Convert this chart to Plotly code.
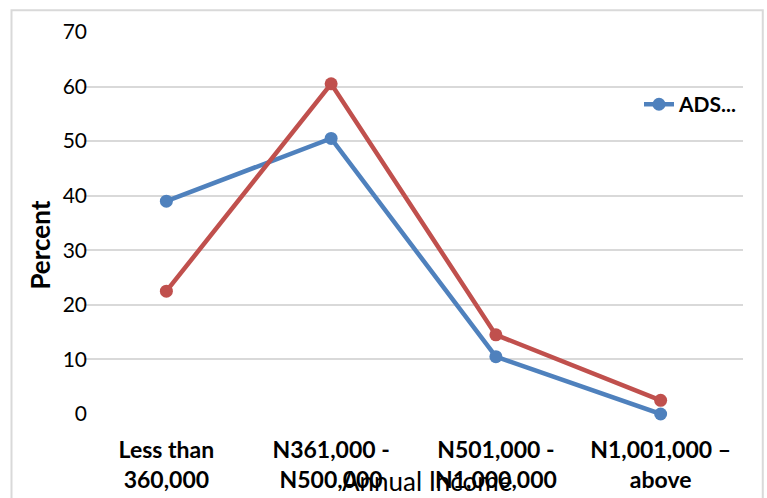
import plotly.graph_objects as go

categories = ["Less than<br>360,000", "N361,000 -<br>N500,000",
              "N501,000 -<br>N1,000,000", "N1,001,000 –<br>above"]
ads_values = [39, 50.5, 10.5, 0]
other_values = [22.5, 60.5, 14.5, 2.5]
y_ticks = [0, 10, 20, 30, 40, 50, 60, 70]

BLUE = "#4F81BD"
RED = "#C0504D"
FONT = "Lato"

fig = go.Figure()
fig.add_trace(go.Scatter(
    x=categories, y=ads_values, name="<b>ADS...</b>", mode="lines+markers",
    line=dict(color=BLUE, width=4.5), marker=dict(size=13, color=BLUE),
    cliponaxis=False,
))
fig.add_trace(go.Scatter(
    x=categories, y=other_values, name="", mode="lines+markers",
    line=dict(color=RED, width=4.5), marker=dict(size=13, color=RED),
    cliponaxis=False, showlegend=False,
))

fig.update_layout(
    width=767, height=498,
    margin=dict(l=84, r=24, t=32, b=84),
    paper_bgcolor="white", plot_bgcolor="white",
    font=dict(family=FONT, color="black"),
    showlegend=True,
    legend=dict(x=1.0, y=0.81, xanchor="right", yanchor="middle",
                bgcolor="rgba(0,0,0,0)",
                font=dict(family=FONT, size=21, color="black")),
    xaxis=dict(type="category", range=[-0.5, 3.5], showgrid=False,
               showline=False, zeroline=False, ticks="", automargin=False,
               ticklabelstandoff=20,
               tickfont=dict(family=FONT, size=23, weight="bold")),
    yaxis=dict(range=[0, 70], tickvals=y_ticks, showgrid=True,
               gridcolor="#D9D9D9", gridwidth=2, zeroline=False,
               showline=False, ticks="", ticklen=0, automargin=False,
               ticklabelstandoff=-4,
               tickfont=dict(family=FONT, size=21)),
    annotations=[
        dict(text="Annual Income", xref="paper", yref="paper",
             x=0.52, y=-0.175, xanchor="center", yanchor="middle",
             showarrow=False, font=dict(family=FONT, size=26)),
        dict(text="<b>Percent</b>", xref="paper", yref="paper",
             x=-0.067, y=0.443, xanchor="center", yanchor="middle",
             textangle=-90, showarrow=False, font=dict(family=FONT, size=26)),
    ],
    shapes=[
        dict(type="rect", xref="paper", yref="paper",
             x0=-0.11, x1=1.03, y0=-0.24, y1=1.057,
             line=dict(color="#D9D9D9", width=2), fillcolor="rgba(0,0,0,0)",
             layer="below"),
    ],
)

fig.write_html("out.html")
